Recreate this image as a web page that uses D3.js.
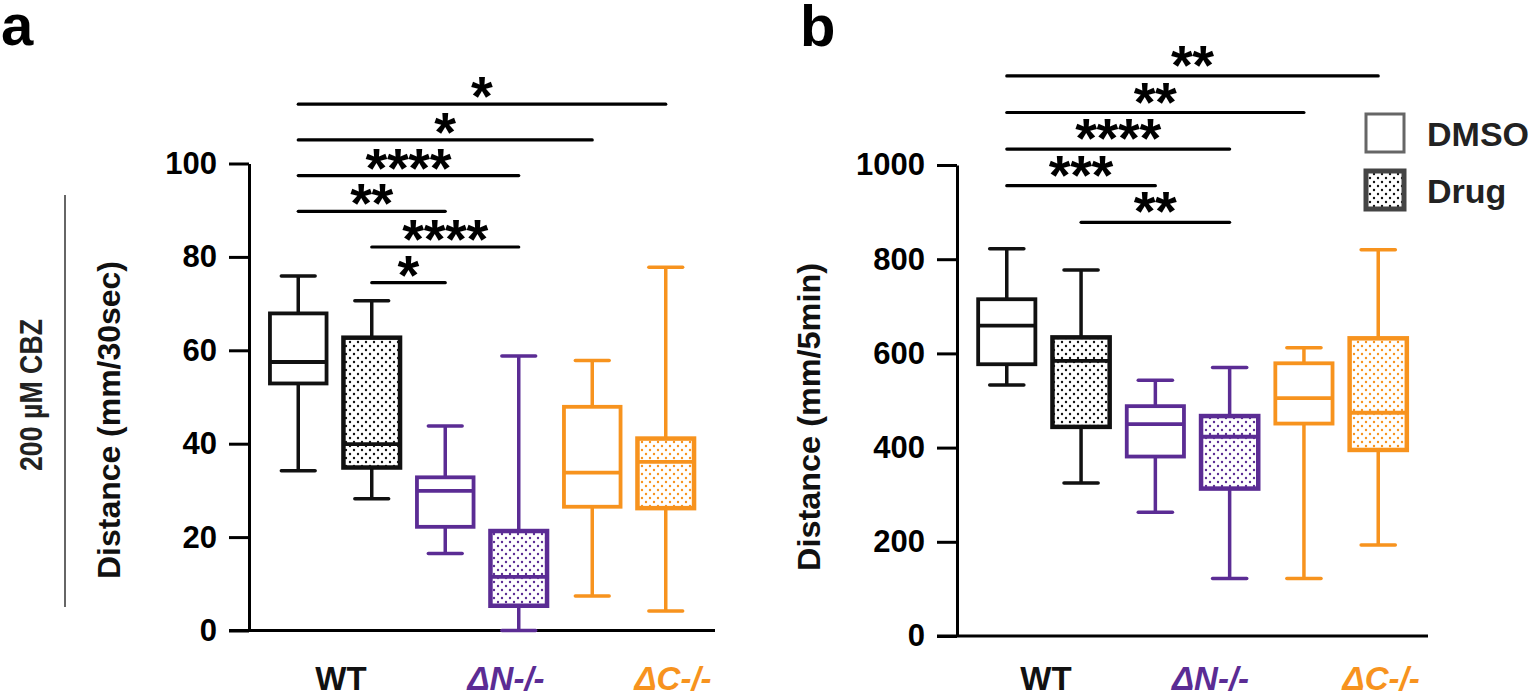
<!DOCTYPE html>
<html>
<head>
<meta charset="utf-8">
<script src="https://cdn.jsdelivr.net/npm/d3@7"></script>
<style>
  html, body { margin: 0; padding: 0; background: #fff; }
  svg { display: block; font-family: "Liberation Sans", Arial, sans-serif; }
</style>
</head>
<body>
<svg id="chart" width="1536" height="696"></svg>
<script>
// ---------- DATA ----------
const groups = ["WT", "ΔN-/-", "ΔC-/-"];
const treatments = ["DMSO", "Drug"];
const boxKeys = ["WT-DMSO", "WT-Drug", "ΔN-DMSO", "ΔN-Drug", "ΔC-DMSO", "ΔC-Drug"];
const groupColors = ["#111111", "#5b2c94", "#f7931e"];

// Panel a: Distance (mm/30sec)
const aMin = [34.2, 28.2, 16.5, 0.0, 7.4, 4.2];
const aQ1  = [52.9, 34.9, 22.2, 5.3, 26.5, 26.2];
const aMed = [57.5, 39.9, 29.9, 11.5, 33.8, 36.1];
const aQ3  = [67.9, 62.7, 32.8, 21.3, 47.9, 41.1];
const aMax = [75.9, 70.6, 43.8, 58.8, 57.8, 77.8];
const aTicks = [0, 20, 40, 60, 80, 100];
const aSigFrom  = [0, 0, 0, 0, 1, 1];
const aSigTo    = [5, 4, 3, 2, 3, 2];
const aSigLabel = ["*", "*", "****", "**", "****", "*"];

// Panel b: Distance (mm/5min)
const bMin = [533, 325, 263, 122, 122, 193];
const bQ1  = [577, 444, 381, 313, 451, 395];
const bMed = [659, 584, 450, 423, 505, 474];
const bQ3  = [715, 634, 488, 467, 579, 632];
const bMax = [822, 777, 543, 570, 612, 820];
const bTicks = [0, 200, 400, 600, 800, 1000];
const bSigFrom  = [0, 0, 0, 0, 1];
const bSigTo    = [5, 4, 3, 2, 3];
const bSigLabel = ["**", "**", "****", "***", "**"];

// ---------- DRAW ----------
const svg = d3.select("#chart");
const defs = svg.append("defs");
groupColors.forEach((c, i) => {
  const p = defs.append("pattern").attr("id", "dots" + i)
    .attr("width", 8).attr("height", 8).attr("patternUnits", "userSpaceOnUse");
  p.append("rect").attr("width", 8).attr("height", 8).attr("fill", "#fff");
  p.append("circle").attr("cx", 2).attr("cy", 2).attr("r", 1.2).attr("fill", c);
  p.append("circle").attr("cx", 6).attr("cy", 6).attr("r", 1.2).attr("fill", c);
});

function panel(cfg) {
  const g = svg.append("g");
  const x = d3.scaleBand().domain(boxKeys).range(cfg.xRange).paddingInner(0).paddingOuter(0.17);
  const y = d3.scaleLinear().domain([0, cfg.ticks[cfg.ticks.length - 1]]).range(cfg.yRange);
  const bw = x.bandwidth() * 0.77, cw = x.bandwidth() * 0.46;

  // y axis
  const yAxis = d3.axisLeft(y).tickValues(cfg.ticks).tickFormat(d3.format("d"))
    .tickSize(20).tickPadding(12).tickSizeOuter(0);
  const ga = g.append("g").attr("transform", `translate(${cfg.xRange[0]},0)`).call(yAxis);
  ga.select(".domain").attr("stroke", "#000").attr("stroke-width", 3);
  ga.selectAll(".tick line").attr("stroke", "#000").attr("stroke-width", 3);
  ga.selectAll(".tick text").attr("font-size", 31).attr("font-weight", "bold").attr("fill", "#000")
    .attr("font-family", "Liberation Sans, Arial, sans-serif");
  // x axis line
  g.append("line").attr("x1", cfg.xRange[0] - 20).attr("x2", cfg.xRange[1])
    .attr("y1", y(0)).attr("y2", y(0)).attr("stroke", "#000").attr("stroke-width", 3);

  // boxes
  boxKeys.forEach((k, i) => {
    const gi = Math.floor(i / 2), col = groupColors[gi], drug = i % 2 === 1;
    const cx = x(k) + x.bandwidth() / 2;
    const bg = g.append("g").attr("stroke", col).attr("fill", "none");
    bg.append("line").attr("x1", cx).attr("x2", cx).attr("y1", y(cfg.max[i])).attr("y2", y(cfg.q3[i])).attr("stroke-width", 3.5);
    bg.append("line").attr("x1", cx).attr("x2", cx).attr("y1", y(cfg.q1[i])).attr("y2", y(cfg.min[i])).attr("stroke-width", 3.5);
    bg.append("line").attr("x1", cx - cw / 2).attr("x2", cx + cw / 2).attr("y1", y(cfg.max[i])).attr("y2", y(cfg.max[i])).attr("stroke-width", 3.5).attr("stroke-linecap", "round");
    bg.append("line").attr("x1", cx - cw / 2).attr("x2", cx + cw / 2).attr("y1", y(cfg.min[i])).attr("y2", y(cfg.min[i])).attr("stroke-width", 3.5).attr("stroke-linecap", "round");
    bg.append("rect").attr("x", cx - bw / 2).attr("width", bw)
      .attr("y", y(cfg.q3[i])).attr("height", y(cfg.q1[i]) - y(cfg.q3[i]))
      .attr("fill", drug ? `url(#dots${gi})` : "#fff").attr("stroke-width", drug ? 4.5 : 3.8);
    bg.append("line").attr("x1", cx - bw / 2).attr("x2", cx + bw / 2).attr("y1", y(cfg.med[i])).attr("y2", y(cfg.med[i])).attr("stroke-width", 3.8);
  });

  // x labels
  groups.forEach((name, gi) => {
    const cx = (x(boxKeys[gi * 2]) + x(boxKeys[gi * 2 + 1]) + x.bandwidth()) / 2;
    g.append("text").attr("x", cx + cfg.labelShift[gi]).attr("y", cfg.labelY)
      .attr("text-anchor", "middle").attr("font-size", 33).attr("font-weight", "bold")
      .attr("font-style", gi === 0 ? "normal" : "italic").attr("fill", groupColors[gi]).text(name);
  });

  // significance
  cfg.sigFrom.forEach((f, j) => {
    const level = cfg.sigFrom.length - 1 - j;
    const ly = cfg.sigBase - level * cfg.sigStep;
    const x1 = x(boxKeys[f]) + x.bandwidth() / 2, x2 = x(boxKeys[cfg.sigTo[j]]) + x.bandwidth() / 2;
    g.append("line").attr("x1", x1).attr("x2", x2).attr("y1", ly).attr("y2", ly)
      .attr("stroke", "#000").attr("stroke-width", 3.2).attr("stroke-linecap", "round");
    g.append("text").attr("x", (x1 + x2) / 2).attr("y", ly + cfg.starDy).attr("text-anchor", "middle")
      .attr("font-size", 56).attr("font-weight", "bold").attr("fill", "#000")
      .attr("textLength", cfg.sigLabel[j].length * 21.5).attr("lengthAdjust", "spacing")
      .text(cfg.sigLabel[j]);
  });

  // y title
  g.append("text").attr("transform", `translate(${cfg.titleX},${cfg.titleY}) rotate(-90)`)
    .attr("text-anchor", "middle").attr("font-size", 31).attr("font-weight", "bold").attr("fill", "#111")
    .attr("textLength", cfg.titleLen).attr("lengthAdjust", "spacingAndGlyphs").text(cfg.title);
}

panel({
  xRange: [249, 715], yRange: [630.5, 163.5], ticks: aTicks,
  min: aMin, q1: aQ1, med: aMed, q3: aQ3, max: aMax,
  sigFrom: aSigFrom, sigTo: aSigTo, sigLabel: aSigLabel, sigBase: 282.7, sigStep: 35.7, starDy: 11,
  labelY: 690, labelShift: [6, 24, 44],
  title: "Distance (mm/30sec)", titleX: 120, titleY: 420, titleLen: 318
});
panel({
  xRange: [957, 1428], yRange: [636, 165], ticks: bTicks,
  min: bMin, q1: bQ1, med: bMed, q3: bQ3, max: bMax,
  sigFrom: bSigFrom, sigTo: bSigTo, sigLabel: bSigLabel, sigBase: 222.3, sigStep: 36.6, starDy: 8,
  labelY: 690, labelShift: [2, 18, 40],
  title: "Distance (mm/5min)", titleX: 820, titleY: 417, titleLen: 308
});

// panel letters
svg.append("text").attr("x", 1).attr("y", 45).attr("font-size", 58).attr("font-weight", "bold").text("a");
svg.append("text").attr("x", 800).attr("y", 46).attr("font-size", 58).attr("font-weight", "bold").text("b");

// side label
svg.append("line").attr("x1", 65).attr("x2", 65).attr("y1", 195).attr("y2", 607).attr("stroke", "#666").attr("stroke-width", 2);
svg.append("text").attr("transform", "translate(42,395) rotate(-90)").attr("text-anchor", "middle")
  .attr("font-size", 32).attr("font-weight", "bold").attr("fill", "#222")
  .attr("textLength", 152).attr("lengthAdjust", "spacingAndGlyphs").text("200 µM CBZ");

// legend
const leg = svg.append("g");
treatments.forEach((t, i) => {
  const ly = 114 + i * 57;
  leg.append("rect").attr("x", 1366).attr("y", ly).attr("width", 38).attr("height", 38)
    .attr("fill", i === 0 ? "#fff" : "url(#dots0)").attr("stroke", i === 0 ? "#666" : "#444")
    .attr("stroke-width", i === 0 ? 3 : 5);
  leg.append("text").attr("x", 1427).attr("y", ly + 32).attr("font-size", 34).attr("font-weight", "bold")
    .attr("fill", "#222").text(t);
});
</script>
</body>
</html>
